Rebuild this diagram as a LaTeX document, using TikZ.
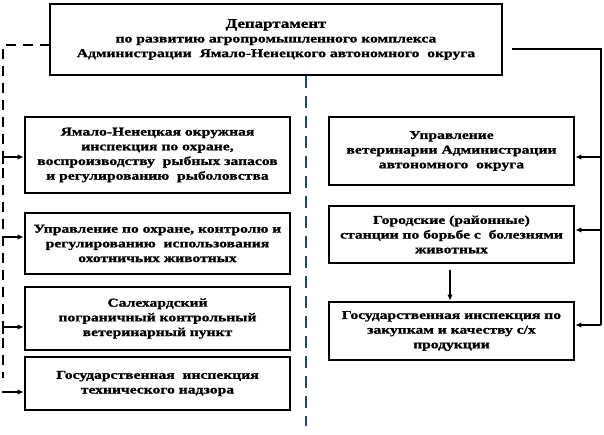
\documentclass[tikz,border=0pt]{standalone}
\usepackage{fontspec}
\setmainfont{Liberation Serif}[FakeStretch=1.3, BoldFeatures={FakeBold=1.2}]
\usetikzlibrary{arrows.meta}
\definecolor{dblue}{RGB}{31,73,125}
\tikzset{
  orgbox/.style={draw, line width=2.8pt, inner sep=0pt, align=center,
    font=\bfseries\fontsize{12}{14.7}\selectfont},
  blkdash/.style={line width=2.6pt, dash pattern=on 10pt off 7pt},
  bluedash/.style={line width=2.4pt, dblue, dash pattern=on 12pt off 8pt},
  conn/.style={line width=1.6pt},
  arr/.style={conn, -{Latex[length=6pt,width=5.5pt]}}
}
\begin{document}
\begin{tikzpicture}[x=1pt,y=-1pt]
\useasboundingbox (0,0) rectangle (604,435);
% top box
\node[orgbox, minimum width=452pt, minimum height=71pt] (top) at (276,39.5)
  {{\fontsize{13}{16}\selectfont Департамент}\\по развитию агропромышленного комплекса\\Администрации\ \ Ямало-Ненецкого автономного\ \ округа};
% left boxes
\node[orgbox, minimum width=265pt, minimum height=76pt] (b1) at (157.5,155)
  {Ямало-Ненецкая окружная\\инспекция по охране,\\воспроизводству\ \ рыбных запасов\\и регулированию\ \ рыболовства};
\node[orgbox, minimum width=265pt, minimum height=61pt] (b2) at (157.5,243.5)
  {Управление по охране, контролю и\\регулированию\ \ использования\\охотничьих животных};
\node[orgbox, minimum width=265pt, minimum height=63pt] (b3) at (157.5,318.5)
  {Салехардский\\пограничный контрольный\\ветеринарный пункт};
\node[orgbox, minimum width=265pt, minimum height=53pt] (b4) at (157.5,383.5)
  {Государственная\ \ инспекция\\технического надзора};
% right boxes
\node[orgbox, minimum width=245pt, minimum height=68pt] (r1) at (451.5,151)
  {Управление\\ветеринарии Администрации\\автономного\ \ округа};
\node[orgbox, minimum width=245pt, minimum height=57pt] (r2) at (451.5,234.5)
  {Городские (районные)\\станции по борьбе с\ \ болезнями\\животных};
\node[orgbox, minimum width=245pt, minimum height=58pt] (r3) at (451.5,331)
  {Государственная инспекция по\\закупкам и качеству с/х\\продукции};
% dashed lines
\coordinate (dl0) at (50,45);
\coordinate (dl1) at (3,45);
\coordinate (dl2) at (3,378);
\draw[blkdash] (dl0) -- (dl1) -- (dl2);
\coordinate (db0) at (306,76);
\coordinate (db1) at (306,426);
\draw[bluedash] (db0) -- (db1);
% left arrows
\coordinate (la1) at (3,157);
\coordinate (la1s) at (3,164);
\draw[arr] (la1s) -- (la1) -- (la1 -| b1.west);
\coordinate (la2) at (2,237);
\draw[arr] (la2) -- (la2 -| b2.west);
\coordinate (la3) at (3,327);
\coordinate (la3s) at (3,334);
\draw[arr] (la3s) -- (la3) -- (la3 -| b3.west);
\coordinate (la4) at (2,392);
\draw[arr] (la4) -- (la4 -| b4.west);
% right connector
\coordinate (rt0) at (512,49);
\coordinate (rt1) at (601,49);
\coordinate (ra1) at (601,157);
\coordinate (ra2) at (601,230);
\coordinate (ra3) at (601,325);
\draw[conn] (rt0) -- (rt1) -- (ra3);
\draw[arr] (ra1) -- (ra1 -| r1.east);
\draw[arr] (ra2) -- (ra2 -| r2.east);
\draw[arr] (ra3) -- (ra3 -| r3.east);
% down arrow
\coordinate (da0) at (450,270);
\draw[arr] (da0) -- (da0 |- r3.north);
\end{tikzpicture}
\end{document}
